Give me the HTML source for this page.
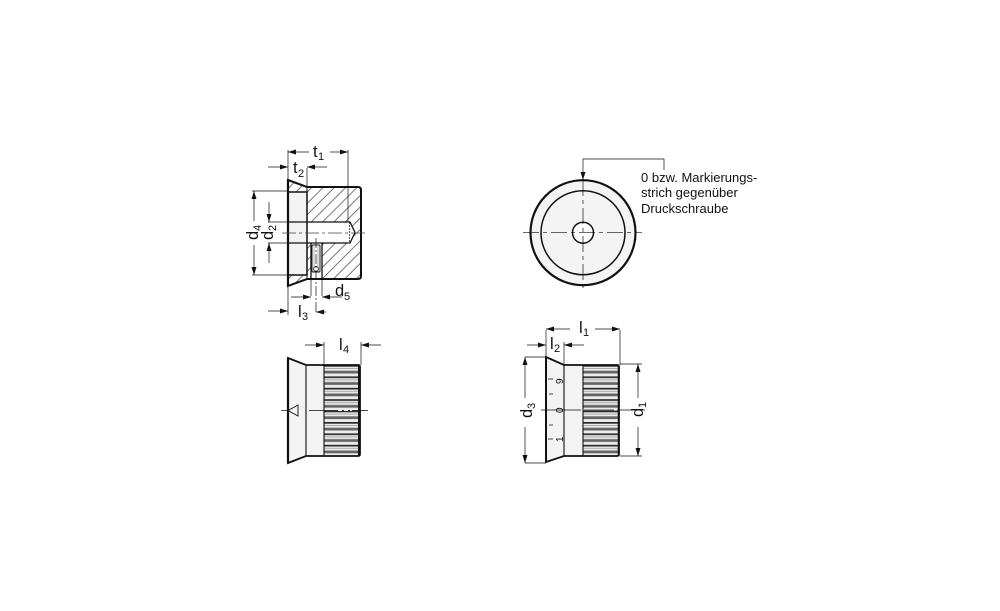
<!DOCTYPE html>
<html><head><meta charset="utf-8"><style>
html,body{margin:0;padding:0;background:#fff}
svg{display:block}
text{font-family:"Liberation Sans",sans-serif;fill:#111}
.d{font-size:16.500px}.s{font-size:11px}
.n{font-size:13px}
</style></head><body>
<svg width="1000" height="611" viewBox="0 0 1000 611" xmlns="http://www.w3.org/2000/svg">
<defs>
<pattern id="h" width="8" height="8" patternUnits="userSpaceOnUse" patternTransform="rotate(-45)"><rect width="8" height="8" fill="#fff"/><line x1="0" y1="1" x2="8" y2="1" stroke="#555" stroke-width=".8"/></pattern>
<pattern id="k" width="10" height="11.400" patternUnits="userSpaceOnUse" y="365"><rect width="10" height="11.400" fill="#ececec"/><rect y="0" width="10" height="1.700" fill="#2a2a2a"/><rect y="5.700" width="10" height="2.800" fill="#666"/><rect y="3" width="10" height="1" fill="#aaa"/></pattern>
<marker id="a" viewBox="0 0 8 5" refX="8" refY="2.500" markerWidth="8" markerHeight="5" orient="auto-start-reverse" markerUnits="userSpaceOnUse"><path d="M0 0L8 2.500L0 5Z" fill="#111"/></marker>
</defs>

<!-- section view -->
<path d="M288 180L307 187H358Q361 187 361 190V276Q361 279 358 279H307L288 286Z" fill="url(#h)"/>
<rect x="288" y="192" width="19" height="83" fill="#f3f3f3"/>
<rect x="307" y="222" width="43" height="21" fill="#fff"/>
<path d="M350 222L355 232.500L350 243Z" fill="#fff"/>
<rect x="311" y="243" width="11" height="36" fill="#fff"/>
<g fill="none" stroke="#111">
<path d="M288 180L307 187H358Q361 187 361 190V276Q361 279 358 279H307L288 286Z" stroke-width="2"/>
<path d="M288 180V286" stroke-width="2.200"/>
<path d="M288 192H307V275H288" stroke-width="1.500"/>
<path d="M307 187V279" stroke-width="1"/>
<path d="M288 222H350L355 232.500L350 243H288" stroke-width="1.300"/>
<path d="M349.500 222V243" stroke-width=".7" stroke-dasharray="2 1"/>
<path d="M311 243V279M322 243V279" stroke-width="1.300"/>
<rect x="312" y="245" width="8" height="27" rx="1" stroke-width=".9"/>
<path d="M314 246V271M318 246V271" stroke-width=".5" stroke="#777"/>
<circle cx="316" cy="269" r="2.500" stroke-width=".7"/>
</g>
<g stroke="#111" stroke-width=".7" fill="none">
<path d="M282 233H368" stroke="#444" stroke-dasharray="14 3 3 3"/>
<path d="M316 238V314" stroke-dasharray="10 2 2 2"/>
<path d="M288 150V180M348 150V222M307 168V187M252 191H288M268 222H288M268 243H288M252 275H288"/>
<path d="M288 286V315M311 279V296M322 279V296"/>
<path d="M309 152H288" marker-end="url(#a)"/><path d="M330 152H348" marker-end="url(#a)"/>
<path d="M268 167H288" marker-end="url(#a)"/><path d="M327 167H307" marker-end="url(#a)"/>
<path d="M254 221V191" marker-end="url(#a)"/><path d="M254 245V275" marker-end="url(#a)"/>
<path d="M269 202V222" marker-end="url(#a)"/><path d="M269 263V243" marker-end="url(#a)"/>
<path d="M291 297H311" marker-end="url(#a)"/><path d="M342 297H322" marker-end="url(#a)"/>
<path d="M268 311H288" marker-end="url(#a)"/><path d="M326 312H316" marker-end="url(#a)"/>
</g>
<text class="d" x="313" y="157">t</text><text class="s" x="318" y="160">1</text>
<text class="d" x="293" y="173">t</text><text class="s" x="298" y="177">2</text>
<text class="d" x="335" y="296">d</text><text class="s" x="344" y="300">5</text>
<text class="d" x="298" y="317">l</text><text class="s" x="302" y="320">3</text>
<text class="d" transform="translate(258,240) rotate(-90)">d</text><text class="s" transform="translate(261,231) rotate(-90)">4</text>
<text class="d" transform="translate(273,240) rotate(-90)">d</text><text class="s" transform="translate(276,231) rotate(-90)">2</text>

<!-- front view -->
<circle cx="583" cy="232.700" r="52.500" fill="#f4f4f4" stroke="#111" stroke-width="2.200"/>
<circle cx="583" cy="232.700" r="42" fill="#f4f4f4" stroke="#111" stroke-width="1.500"/>
<circle cx="583" cy="232.700" r="10.500" fill="#fff" stroke="#111" stroke-width="1.500"/>
<g stroke="#111" stroke-width=".7" fill="none">
<path d="M523 232.700H642" stroke-dasharray="16 4 4 4"/>
<path d="M583 180V292" stroke-dasharray="16 4 4 4"/>
<path d="M664 170V159H583V180" marker-end="url(#a)"/>
</g>
<text class="n" x="641" y="182">0 bzw. Markierungs-</text>
<text class="n" x="641" y="197">strich gegenüber</text>
<text class="n" x="641" y="213">Druckschraube</text>

<!-- lower left -->
<rect x="324" y="365" width="36" height="91" fill="url(#k)"/>
<path d="M288 358L306 365H324V456H306L288 463Z" fill="#f3f3f3"/>
<g fill="none" stroke="#111">
<path d="M288 358L306 365H358Q360 365 360 367V454Q360 456 358 456H306L288 463Z" stroke-width="1.800"/>
<path d="M288 358V463" stroke-width="2.200"/>
<path d="M306 365V456M324 365V456" stroke-width="1.100"/>
<path d="M359 365V456" stroke-width="2"/>
<path d="M298 405L288 410.500L298 416Z" stroke-width=".9"/>
</g>
<g stroke="#111" stroke-width=".7" fill="none">
<path d="M281 410.500H288M309 410.500H368"/>
<path d="M324 342V365M361 342V365"/>
<path d="M305 345H324" marker-end="url(#a)"/><path d="M381 345H361" marker-end="url(#a)"/>
</g>
<path d="M338 410.500H352" stroke="#fff" stroke-width="1" stroke-dasharray="4 2"/>
<text class="d" x="339" y="350">l</text><text class="s" x="343" y="353">4</text>

<!-- lower right -->
<rect x="583" y="365" width="36" height="91" fill="url(#k)"/>
<path d="M546 357L564 365H583V456H564L546 462Z" fill="#f3f3f3"/>
<g fill="none" stroke="#111">
<path d="M546 357L564 365H617Q619 365 619 367V454Q619 456 617 456H564L546 462Z" stroke-width="1.800"/>
<path d="M546 357V462" stroke-width="2"/>
<path d="M564 365V456M583 365V456" stroke-width="1.100"/>
<path d="M618.500 365V456" stroke-width="1.500"/>
</g>
<g stroke="#111" stroke-width=".7" fill="none">
<path d="M541 410H645" stroke-dasharray="40 3 30 3"/>
<path d="M546 330V357M620 330V365M564 342V365M525 357H546M525 463H546M620 364H642M620 456H642"/>
<path d="M570 329H546" marker-end="url(#a)"/><path d="M595 329H620" marker-end="url(#a)"/>
<path d="M527 345H546" marker-end="url(#a)"/><path d="M584 345H564" marker-end="url(#a)"/>
<path d="M525 398V357" marker-end="url(#a)"/><path d="M525 427V463" marker-end="url(#a)"/>
<path d="M638 398V364" marker-end="url(#a)"/><path d="M638 427V456" marker-end="url(#a)"/>
<path d="M549 394H553M548 379H553M549 425H553M548 439H553" stroke-width=".8"/>
</g>
<text transform="translate(563,384) rotate(-90)" style="font-size:10px">9</text>
<text transform="translate(563,413) rotate(-90)" style="font-size:10px">0</text>
<text transform="translate(563,442) rotate(-90)" style="font-size:10px">1</text>
<text class="d" x="579" y="333">l</text><text class="s" x="583" y="336">1</text>
<text class="d" x="550" y="349">l</text><text class="s" x="554" y="352">2</text>
<text class="d" transform="translate(532,418) rotate(-90)">d</text><text class="s" transform="translate(535,409) rotate(-90)">3</text>
<text class="d" transform="translate(643,417) rotate(-90)">d</text><text class="s" transform="translate(646,408) rotate(-90)">1</text>
</svg>
</body></html>
